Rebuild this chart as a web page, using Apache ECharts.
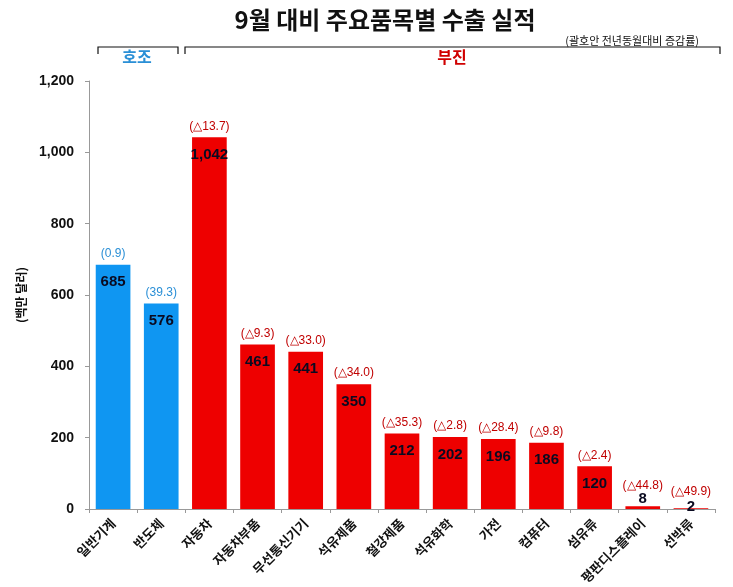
<!DOCTYPE html>
<html><head><meta charset="utf-8">
<script src="https://cdn.jsdelivr.net/npm/echarts@6/dist/echarts.min.js"></script>
<style>html,body{margin:0;padding:0;background:#fff}#c{width:733px;height:587px}</style>
</head><body><div id="c"></div>
<script>
const categories = ['일반기계','반도체','자동차','자동차부품','무선통신기기','석유제품','철강제품','석유화학','가전','컴퓨터','섬유류','평판디스플레이','선박류'];
const values = [685, 576, 1042, 461, 441, 350, 212, 202, 196, 186, 120, 8, 2];
const changes = ['(0.9)','(39.3)','(△13.7)','(△9.3)','(△33.0)','(△34.0)','(△35.3)','(△2.8)','(△28.4)','(△9.8)','(△2.4)','(△44.8)','(△49.9)'];
const good = [true, true, false, false, false, false, false, false, false, false, false, false, false];
const yTicks = [0, 200, 400, 600, 800, 1000, 1200];

const BLUE = '#0f96f2', RED = '#ee0000';
const CJK = '"Noto Sans CJK KR", sans-serif';
const NUM = '"Liberation Sans", Arial, sans-serif';

const chart = echarts.init(document.getElementById('c'));

const valueData = values.map((v, i) => {
  const small = v < 50;
  return {
    value: v,
    itemStyle: { color: good[i] ? BLUE : RED },
    label: small ? { position: 'top', distance: v < 5 ? -6 : 0 } : { position: 'insideTop', distance: 10 }
  };
});
const pctData = values.map((v, i) => {
  const small = v < 50;
  return {
    value: v,
    label: { color: good[i] ? '#2a8fd6' : '#c00000', distance: small ? (v < 5 ? 11 : 14) : 5 }
  };
});

chart.setOption({
  animation: false,
  title: [
    { text: '9월 대비 주요품목별 수출 실적', left: 380, textAlign: 'center', top: 3,
      textStyle: { fontFamily: CJK, fontWeight: 'bold', fontSize: 24, color: '#111' } },
    { text: '(괄호안 전년동월대비 증감률)', right: 29, top: 30,
      textStyle: { fontFamily: CJK, fontWeight: 'normal', fontSize: 11, color: '#111' } }
  ],
  grid: { left: 89, right: 18, top: 81, bottom: 78 },
  xAxis: {
    type: 'category', data: categories,
    axisLine: { lineStyle: { color: '#999' } },
    axisTick: { show: true, length: 4, lineStyle: { color: '#999' } },
    axisLabel: { rotate: 45, interval: 0, fontFamily: CJK, fontWeight: 'bold', fontSize: 13, color: '#111', margin: 12 }
  },
  yAxis: {
    type: 'value', min: 0, max: 1200, interval: 200,
    name: '(백만 달러)', nameLocation: 'middle', nameRotate: 90, nameGap: 62,
    nameTextStyle: { fontFamily: CJK, fontWeight: 'bold', fontSize: 12, color: '#111' },
    axisLine: { show: true, lineStyle: { color: '#999' } },
    axisTick: { show: true, length: 4, lineStyle: { color: '#999' } },
    splitLine: { show: false },
    axisLabel: { fontFamily: NUM, fontWeight: 'bold', fontSize: 14, color: '#111', margin: 15,
      formatter: v => yTicks.includes(v) ? v.toLocaleString('en-US') : '' }
  },
  series: [
    {
      type: 'bar', data: valueData, barWidth: '72%',
      label: { show: true, fontFamily: NUM, fontWeight: 'bold', fontSize: 15, color: '#0a0a20',
        formatter: p => p.value.toLocaleString('en-US') }
    },
    {
      type: 'bar', data: pctData, barWidth: '72%', barGap: '-100%',
      itemStyle: { color: 'rgba(0,0,0,0)' }, silent: true,
      label: { show: true, position: 'top', fontFamily: NUM, fontSize: 12,
        formatter: p => changes[p.dataIndex] }
    }
  ],
  graphic: [
    { type: 'polyline', shape: { points: [[98, 54], [98, 47], [178, 47], [178, 54]] }, style: { stroke: '#111', lineWidth: 1.2, fill: null } },
    { type: 'polyline', shape: { points: [[185, 54], [185, 47], [720, 47], [720, 54]] }, style: { stroke: '#111', lineWidth: 1.2, fill: null } },
    { type: 'text', x: 137, y: 57, style: { text: '호조', fill: '#2a8fd6', font: 'bold 16px "Noto Sans CJK KR"', align: 'center', verticalAlign: 'middle' } },
    { type: 'text', x: 452, y: 57, style: { text: '부진', fill: '#d00000', font: 'bold 16px "Noto Sans CJK KR"', align: 'center', verticalAlign: 'middle' } }
  ]
});
</script></body></html>
